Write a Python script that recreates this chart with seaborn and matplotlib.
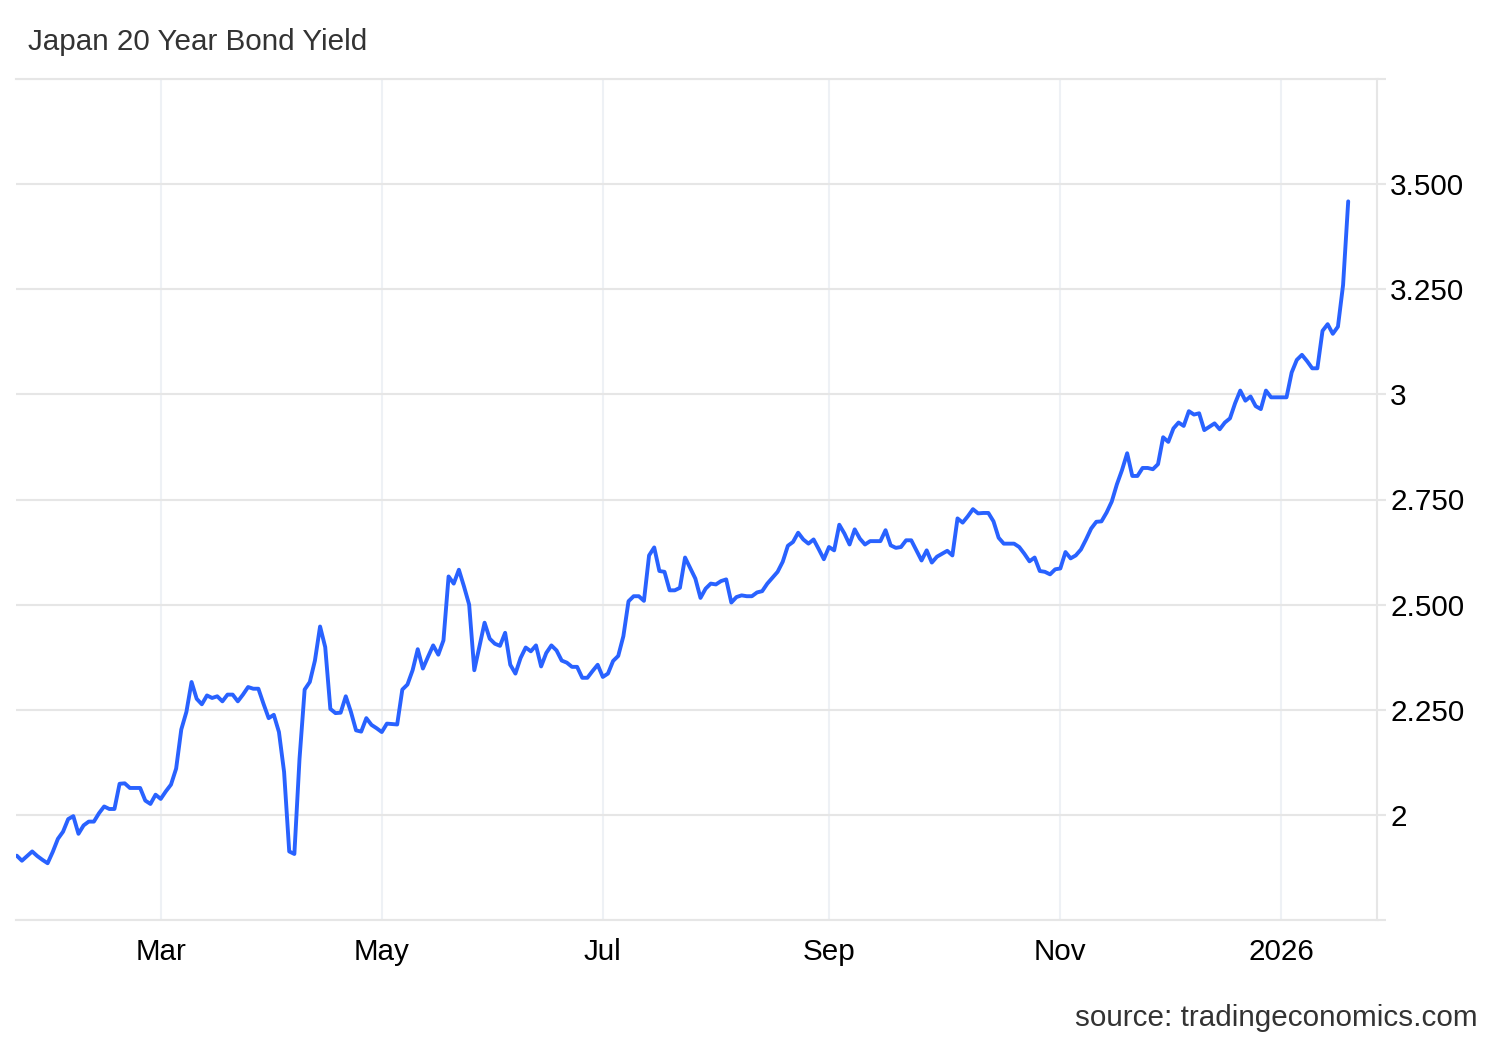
import numpy as np
import pandas as pd
import seaborn as sns
import matplotlib.pyplot as plt

# Trading days on the chart (weekdays, holidays carried forward)
dates = pd.bdate_range("2025-01-21", "2026-01-19")

# Japan 20Y JGB yield, one value per trading day
yields = [
    1.903, 1.891, 1.902, 1.913, 1.902, 1.893, 1.885, 1.912, 1.943, 1.960,
    1.990, 1.997, 1.955, 1.975, 1.984, 1.984, 2.004, 2.020, 2.014, 2.014,
    2.074, 2.075, 2.064, 2.064, 2.064, 2.034, 2.026, 2.048, 2.038, 2.056,
    2.072, 2.110, 2.203, 2.245, 2.316, 2.276, 2.263, 2.284, 2.278, 2.282,
    2.270, 2.286, 2.286, 2.270, 2.286, 2.304, 2.300, 2.300, 2.264, 2.230,
    2.238, 2.197, 2.102, 1.913, 1.907, 2.133, 2.298, 2.316, 2.367, 2.448,
    2.399, 2.252, 2.242, 2.243, 2.282, 2.245, 2.201, 2.198, 2.230, 2.214,
    2.206, 2.197, 2.217, 2.216, 2.215, 2.298, 2.310, 2.344, 2.394, 2.348,
    2.376, 2.403, 2.381, 2.415, 2.567, 2.550, 2.583, 2.543, 2.500, 2.344,
    2.400, 2.457, 2.419, 2.407, 2.402, 2.433, 2.357, 2.336, 2.373, 2.398,
    2.389, 2.403, 2.353, 2.385, 2.403, 2.391, 2.367, 2.362, 2.352, 2.352,
    2.326, 2.326, 2.342, 2.357, 2.328, 2.336, 2.366, 2.378, 2.425, 2.508,
    2.520, 2.520, 2.509, 2.617, 2.636, 2.580, 2.578, 2.534, 2.534, 2.540,
    2.612, 2.587, 2.562, 2.516, 2.538, 2.550, 2.548, 2.556, 2.560, 2.505,
    2.518, 2.522, 2.520, 2.520, 2.529, 2.532, 2.550, 2.564, 2.578, 2.602,
    2.640, 2.649, 2.671, 2.655, 2.645, 2.655, 2.632, 2.608, 2.637, 2.629,
    2.690, 2.669, 2.643, 2.679, 2.657, 2.643, 2.651, 2.651, 2.651, 2.677,
    2.641, 2.635, 2.637, 2.653, 2.653, 2.629, 2.605, 2.629, 2.600, 2.614,
    2.621, 2.628, 2.617, 2.705, 2.695, 2.710, 2.727, 2.717, 2.718, 2.718,
    2.698, 2.659, 2.645, 2.645, 2.645, 2.637, 2.621, 2.603, 2.612, 2.580,
    2.578, 2.572, 2.584, 2.586, 2.625, 2.610, 2.617, 2.631, 2.655, 2.681,
    2.697, 2.698, 2.719, 2.745, 2.786, 2.820, 2.860, 2.806, 2.806, 2.825,
    2.825, 2.822, 2.834, 2.898, 2.887, 2.919, 2.933, 2.925, 2.960, 2.952,
    2.955, 2.915, 2.923, 2.931, 2.917, 2.933, 2.943, 2.979, 3.009, 2.985,
    2.995, 2.972, 2.965, 3.009, 2.993, 2.993, 2.993, 2.993, 3.052, 3.082,
    3.094, 3.079, 3.062, 3.062, 3.151, 3.167, 3.144, 3.161, 3.260, 3.459,
]

# x axis labels (month starts)
month_starts = ["2025-03-01", "2025-05-01", "2025-07-01",
                "2025-09-01", "2025-11-01", "2026-01-01"]
month_labels = ["Mar", "May", "Jul", "Sep", "Nov", "2026"]

# y axis ticks (outer ones unlabelled)
y_ticks = [1.75, 2.0, 2.25, 2.5, 2.75, 3.0, 3.25, 3.5, 3.75]
y_labels = ["", "2", "2.250", "2.500", "2.750", "3", "3.250", "3.500", ""]

df = pd.DataFrame({"date": dates, "yield": yields})
# ordinal axis: points are evenly spaced, one step per trading day
df["pos"] = np.arange(len(df))

sns.set_theme(style="white")
plt.rcParams["font.family"] = ["Liberation Sans", "DejaVu Sans"]

fig = plt.figure(figsize=(15, 10.4), dpi=100)
ax = fig.add_axes([16 / 1500, 1 - 920 / 1040, 1361 / 1500, 841 / 1040])

sns.lineplot(data=df, x="pos", y="yield", color="#2962ff", linewidth=2.8,
             estimator=None, ax=ax)

# month boundary sits on the last trading day of the previous month
tick_pos = dates.searchsorted(pd.to_datetime(month_starts)) - 1
ax.set_xticks(tick_pos)
ax.set_xticklabels(month_labels)
ax.set_xlim(-0.15, 264.6)

ax.set_ylim(1.75, 3.75)
ax.set_yticks(y_ticks)
ax.set_yticklabels(y_labels)
ax.yaxis.tick_right()

ax.set_xlabel("")
ax.set_ylabel("")

ax.set_axisbelow(True)
ax.grid(axis="y", color="#e6e6e6", linewidth=1.5)
ax.grid(axis="x", color="#eef1f5", linewidth=1.5)

ax.spines["left"].set_visible(False)
for side in ["top", "bottom", "right"]:
    ax.spines[side].set_color("#e6e6e6")
    ax.spines[side].set_linewidth(1.5)

ax.tick_params(axis="y", length=6.5, width=1.5, color="#e6e6e6", pad=3,
               labelsize=21.3, labelcolor="black")
ax.tick_params(axis="x", length=0, pad=13, labelsize=21.3, labelcolor="black")

fig.text(28 / 1500, 1 - 50 / 1040, "Japan 20 Year Bond Yield", ha="left",
         va="baseline", fontsize=21.3, color="#333333")
fig.text(1478 / 1500, 1 - 1026 / 1040, "source: tradingeconomics.com",
         ha="right", va="baseline", fontsize=21.3, color="#333333")

fig.savefig("out.png", dpi=100, facecolor="white")
